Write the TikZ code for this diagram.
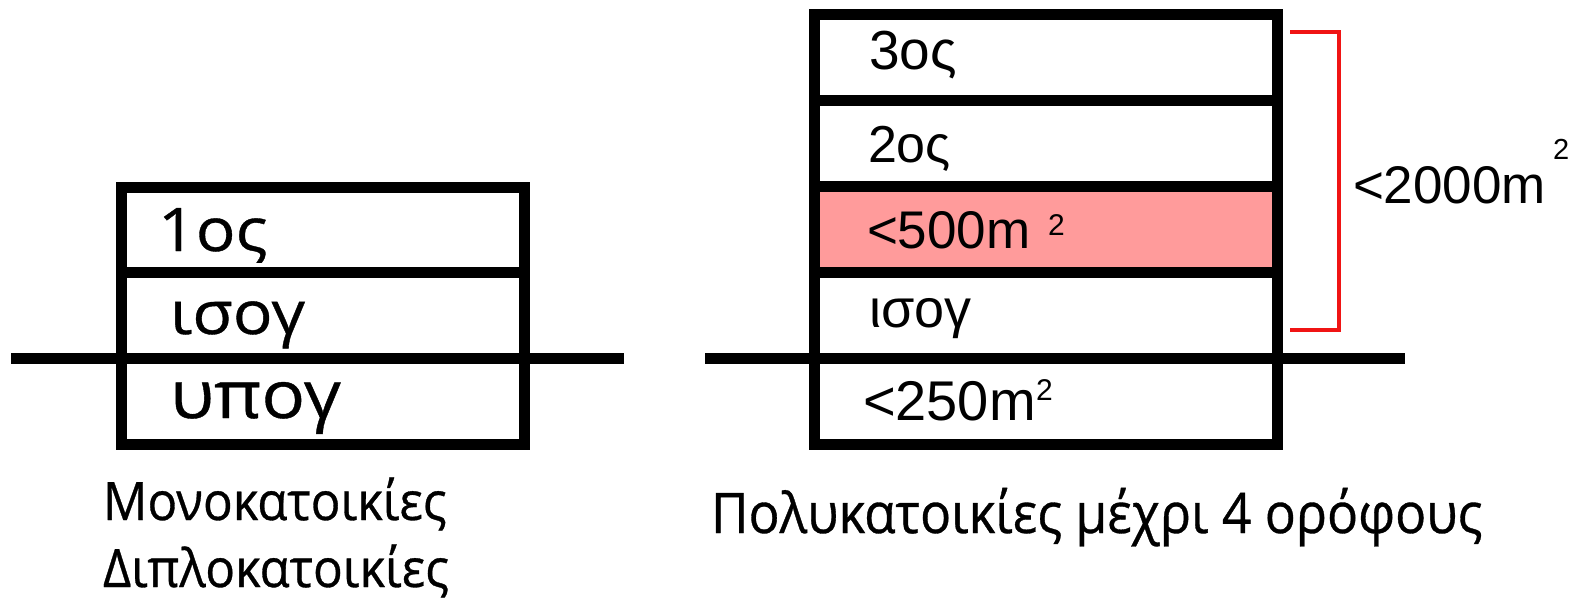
\documentclass[tikz,border=0pt]{standalone}
\usepackage{fontspec}
\setmainfont{Liberation Sans}
% humanist sans in three widths for the floor names and captions
\newfontfamily\humwide[FakeStretch=1.1,FakeBold=0.6]{Open Sans}
\newfontfamily\humcap[FakeStretch=0.93,FakeBold=0.6]{Open Sans}
\newfontfamily\humcapb[FakeStretch=0.92,FakeBold=0.6]{Open Sans}
\newfontfamily\arialike{Liberation Sans}
\definecolor{floorpink}{RGB}{255,155,155}
\definecolor{bracketred}{RGB}{240,20,20}
\begin{document}
\begin{tikzpicture}[x=1pt,y=-1pt,
  wall/.style={line width=11pt,black},
  lbl/.style={anchor=base west,inner sep=0pt,outer sep=0pt},
  widelbl/.style={lbl,font=\humwide\fontsize{#1}{#1}\selectfont},
  caplbl/.style={lbl,font=\humcap\fontsize{#1}{#1}\selectfont},
  capblbl/.style={lbl,font=\humcapb\fontsize{#1}{#1}\selectfont},
  arlbl/.style={lbl,font=\arialike\fontsize{#1}{#1}\selectfont},
  brace/.style={line width=4pt,bracketred}]
\useasboundingbox (0,0) rectangle (1576,602);

% ---- detached house: ground floor, 1st floor and basement ----
\draw[wall] (11,358) -- (624,358);
\draw[wall] (121,187) rectangle (524,444);
\draw[wall] (121,272) -- (524,272);
\node[widelbl=60] (h1) at (158,251) {1ος};
\node[widelbl=60] (h2) at (170,334) {ισογ};
\node[widelbl=66] (h3) at (170,418) {υπογ};
\node[caplbl=53] (cap1) at (103,520) {Μονοκατοικίες};
\node[caplbl=53] (cap2) at (103,587) {Διπλοκατοικίες};

% ---- apartment block up to four storeys ----
\fill[floorpink] (814,186) rectangle (1277,272);
\draw[wall] (705,358) -- (1405,358);
\draw[wall] (814,15) rectangle (1277,444);
\draw[wall] (814,100) -- (1277,100);
\draw[wall] (814,186) -- (1277,186);
\draw[wall] (814,272) -- (1277,272);
\node[arlbl=55] (f3) at (869,70) {3ος};
\node[arlbl=52] (f2) at (868,162) {2ος};
\node[arlbl=53] (f1) at (867,248) {<500m};
\node[arlbl=30] (f1s) at (1048,235) {2};
\node[arlbl=54] (f0) at (869,327) {ισογ};
\node[arlbl=56] (fb) at (863,420) {<250m};
\node[arlbl=30] (fbs) at (1036,400) {2};
\node[capblbl=56] (cap3) at (711,533) {Πολυκατοικίες μέχρι 4 ορόφους};

% ---- bracket over the above-ground floors ----
\coordinate (bt) at (1290,32);
\coordinate (bb) at (1290,330);
\draw[brace] (bt) -- ++(49,0) |- (bb);
\node[arlbl=53] (tot) at (1353,203) {<2000m};
\node[arlbl=29] (tots) at (1553,159) {2};
\end{tikzpicture}
\end{document}
